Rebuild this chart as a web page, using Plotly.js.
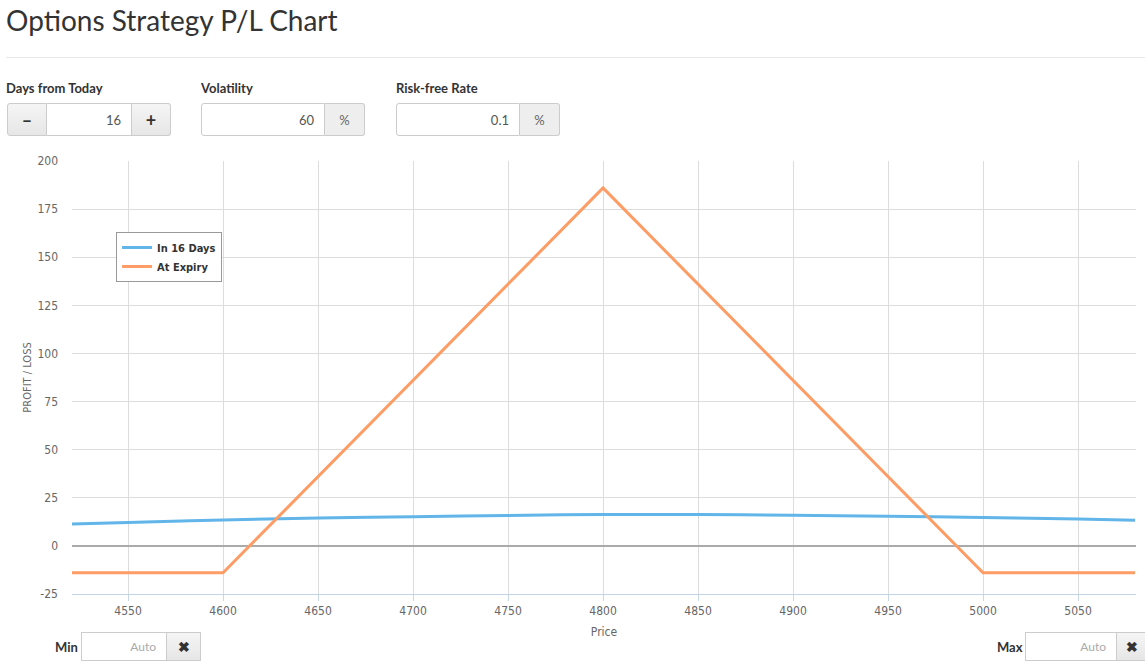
<!DOCTYPE html>
<html>
<head>
<meta charset="utf-8">
<script src="https://cdn.plot.ly/plotly-3.0.1.min.js"></script>
<style>
  html, body { margin:0; padding:0; background:#fff; }
  body { width:1145px; height:670px; position:relative; overflow:hidden; font-family: Lato, "Open Sans", sans-serif; color:#333; }
  #chart { position:absolute; left:0; top:0; width:1145px; height:670px; }
  .ov { position:absolute; z-index:5; }
  h1 { position:absolute; left:6px; top:3px; margin:0; font-weight:400; font-size:28px; color:#333; font-family: Lato, "Open Sans", sans-serif; }
  .hr { position:absolute; left:6px; top:57px; width:1139px; height:1px; background:#e8e8e8; }
  .lbl { position:absolute; top:80px; font-weight:700; font-size:13px; color:#333; }
  .grp { position:absolute; top:103px; height:33px; display:flex; }
  .grp div { box-sizing:border-box; height:33px; border:1px solid #ccc; display:flex; align-items:center; font-size:13px; }
  .btn { background:linear-gradient(#f5f5f5,#e6e6e6); justify-content:center; font-weight:700; font-size:18px !important; color:#333; }
  .inp { background:#fff; justify-content:flex-end; padding-right:10px; color:#555; }
  .add { background:#eee; justify-content:center; color:#666; }
  .grp div + div { border-left:none; }
  .grp div:first-child { border-radius:3px 0 0 3px; }
  .grp div:last-child { border-radius:0 3px 3px 0; }
  .mm { position:absolute; top:632px; height:29px; display:flex; }
  .mm div { box-sizing:border-box; height:29px; border:1px solid #ccc; display:flex; align-items:center; font-size:12px; }
  .mm div + div { border-left:none; }
  .mm .inp { color:#aaa; }
  .mml { position:absolute; top:639px; font-weight:700; font-size:13px; }
</style>
</head>
<body>
<div id="chart"></div>
<h1 class="ov">Options Strategy P/L Chart</h1>
<div class="hr ov"></div>
<div class="lbl ov" style="left:6px">Days from Today</div>
<div class="lbl ov" style="left:201px">Volatility</div>
<div class="lbl ov" style="left:396px">Risk-free Rate</div>
<div class="grp ov" style="left:7px">
  <div class="btn" style="width:40px">&#8211;</div>
  <div class="inp" style="width:85px">16</div>
  <div class="btn" style="width:39px">+</div>
</div>
<div class="grp ov" style="left:201px">
  <div class="inp" style="width:124px">60</div>
  <div class="add" style="width:40px">%</div>
</div>
<div class="grp ov" style="left:396px">
  <div class="inp" style="width:124px">0.1</div>
  <div class="add" style="width:40px">%</div>
</div>
<div class="mml ov" style="left:55px">Min</div>
<div class="mm ov" style="left:81px">
  <div class="inp" style="width:86px">Auto</div>
  <div class="btn" style="width:34px;font-size:14px !important">&#10006;</div>
</div>
<div class="mml ov" style="left:997px">Max</div>
<div class="mm ov" style="left:1025px">
  <div class="inp" style="width:92px">Auto</div>
  <div class="btn" style="width:30px;font-size:14px !important">&#10006;</div>
</div>
<script>
// Data
const daysPrices = [4520, 4550, 4600, 4650, 4700, 4750, 4800, 4850, 4900, 4950, 5000, 5050, 5080];
const daysPL     = [11.3, 12.1, 13.5, 14.5, 15.2, 15.8, 16.3, 16.3, 15.9, 15.4, 14.7, 14.0, 13.3];
const expiryPrices = [4520, 4600, 4800, 5000, 5080];
const expiryPL     = [-14, -14, 186, -14, -14];
const xTicks = [4550, 4600, 4650, 4700, 4750, 4800, 4850, 4900, 4950, 5000, 5050];
const yTicks = [-25, 0, 25, 50, 75, 100, 125, 150, 175, 200];
const seriesNames = ["In 16 Days", "At Expiry"];

const condFont = '"DejaVu Sans Condensed", "Liberation Sans Narrow", sans-serif';
const tickFont = {family: condFont, size: 12, color: '#666'};

const traces = [
  {x: daysPrices, y: daysPL, name: seriesNames[0], mode: 'lines',
   line: {color: '#62b5e8', width: 3, shape: 'spline'}, hoverinfo: 'skip'},
  {x: expiryPrices, y: expiryPL, name: seriesNames[1], mode: 'lines',
   line: {color: '#fd9c64', width: 3}, hoverinfo: 'skip'}
];

const layout = {
  width: 1145, height: 670,
  margin: {l: 72, r: 9, t: 161, b: 76},
  paper_bgcolor: '#fff', plot_bgcolor: '#fff',
  showlegend: true,
  legend: {x: 0.0414, y: 0.836, xanchor: 'left', yanchor: 'top',
    bgcolor: '#fff', bordercolor: '#999', borderwidth: 1,
    font: {family: condFont, size: 11, color: '#333', weight: 700},
    tracegroupgap: 0, itemwidth: 30},
  xaxis: {range: [4520.5, 5080.5], tickvals: xTicks, ticktext: xTicks.map(String),
    showgrid: true, gridcolor: '#dcdcdc', gridwidth: 1,
    ticks: 'outside', ticklen: 6, tickcolor: '#c8d6e6',
    showline: true, linecolor: '#c0d4e6', linewidth: 1,
    zeroline: false, tickfont: tickFont,
    title: {text: 'Price', font: {family: condFont, size: 12, color: '#666'}, standoff: 10},
    fixedrange: true},
  yaxis: {range: [-25, 200], tickvals: yTicks, ticktext: yTicks.map(String),
    showgrid: true, gridcolor: '#dcdcdc', gridwidth: 1,
    zeroline: true, zerolinecolor: '#aaaaaa', zerolinewidth: 2,
    showline: false, ticks: '', tickfont: tickFont, ticklabelstandoff: 13,
    title: {text: 'PROFIT / LOSS', font: {family: condFont, size: 11, color: '#666'}, standoff: 3},
    fixedrange: true}
};

Plotly.newPlot('chart', traces, layout, {displayModeBar: false, staticPlot: true});
</script>
</body>
</html>
